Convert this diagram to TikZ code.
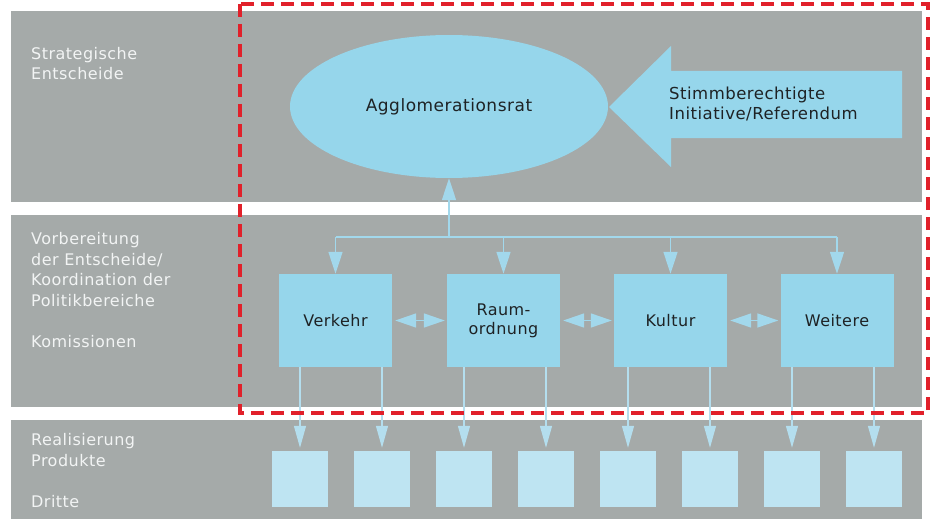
\documentclass[tikz,border=0pt]{standalone}
\usepackage{fontspec}
\setmainfont{DejaVu Sans}[LetterSpace=3]
\usetikzlibrary{shapes.geometric,arrows.meta}
\definecolor{bandgray}{HTML}{A5AAA9}
\definecolor{boxblue}{HTML}{96D6EB}
\definecolor{prodblue}{HTML}{BEE4F2}
\definecolor{lineblue}{HTML}{A2D8EC}
\definecolor{thinblue}{HTML}{B4DEEE}
\definecolor{dashred}{HTML}{E1202A}
\definecolor{labelwhite}{HTML}{F2F4F4}
\definecolor{textdark}{HTML}{1E2224}
\tikzset{
  band/.style={fill=bandgray, draw=none},
  sidelabel/.style={anchor=base west, inner sep=0pt, align=left, text=labelwhite,
    font=\fontsize{16}{20.5}\selectfont},
  kombox/.style={fill=boxblue, draw=none, minimum width=113pt, minimum height=93pt,
    inner sep=0pt, align=center, text=textdark, font=\fontsize{16}{19}\selectfont},
  prodbox/.style={fill=prodblue, draw=none, minimum width=56pt, minimum height=56pt, inner sep=0pt},
  treeline/.style={draw=lineblue, line width=1.5pt},
  treearrow/.style={draw=lineblue, line width=1.5pt, -{Triangle[length=22pt,width=14pt]}, fill=lineblue},
  dblarrow/.style={draw=lineblue, line width=1.5pt,
    {Triangle[length=21pt,width=14pt]}-{Triangle[length=21pt,width=14pt]}, fill=lineblue,
    shorten <=3pt, shorten >=2pt},
  downarrow/.style={draw=thinblue, line width=1.2pt, -{Triangle[length=22pt,width=12pt]}, fill=thinblue,
    shorten >=3pt},
  reddash/.style={draw=dashred, line width=3.5pt, dash pattern=on 13pt off 7pt}
}
\begin{document}
\begin{tikzpicture}[x=1pt,y=-1pt]
\useasboundingbox (0,0) rectangle (935,519);
\fill[white] (0,0) rectangle (935,519);
% bands
\fill[band] (11,11) rectangle (922,202);
\fill[band] (11,215) rectangle (922,407);
\fill[band] (11,420) rectangle (922,519);
% side labels (anchored at the baseline of the last line)
\node[sidelabel] (l1) at (31,79.5) {Strategische\\Entscheide};
\node[sidelabel] (l2) at (31,347) {Vorbereitung\\der Entscheide/\\Koordination der\\Politikbereiche\\[20.5pt]Komissionen};
\node[sidelabel] (l3) at (31,507) {Realisierung\\Produkte\\[20.5pt]Dritte};
% ellipse
\node[ellipse, fill=boxblue, draw=none, minimum width=318pt, minimum height=143pt, inner sep=0pt,
  text=textdark, font=\fontsize{17}{19}\selectfont] (rat) at (449,106.5) {Agglomerationsrat};
% big arrow
\fill[boxblue] (609,107) -- (671,46) -- (671,71) -- (902,71) -- (902,138) -- (671,138) -- (671,167) -- cycle;
\node[anchor=base west, inner sep=0pt, align=left, text=textdark, font=\fontsize{16.5}{20}\selectfont]
  (stimm) at (669,119) {Stimmberechtigte\\Initiative/Referendum};
% commissions
\node[kombox] (verk) at (335.5,320.5) {Verkehr};
\node[kombox] (raum) at (503.5,320.5) {Raum-\\ordnung};
\node[kombox] (kult) at (670.5,320.5) {Kultur};
\node[kombox] (weit) at (837,320.5) {Weitere};
% tree
\coordinate (hub) at (449,237);
\draw[treeline] (verk.north |- hub) -- (weit.north |- hub);
\draw[treearrow] (hub) -- (rat.south);
\foreach \b in {verk,raum,kult,weit}{
  \draw[treearrow] (\b.north |- hub) -- (\b.north);
}
\draw[dblarrow] (verk.east) -- (raum.west);
\draw[dblarrow] (raum.east) -- (kult.west);
\draw[dblarrow] (kult.east) -- (weit.west);
% products
\foreach \i/\x in {1/300,2/382,3/464,4/546,5/628,6/710,7/792,8/874}{
  \node[prodbox] (p\i) at (\x,479) {};
}
\draw[downarrow] (p1.north |- verk.south) -- (p1.north);
\draw[downarrow] (p2.north |- verk.south) -- (p2.north);
\draw[downarrow] (p3.north |- raum.south) -- (p3.north);
\draw[downarrow] (p4.north |- raum.south) -- (p4.north);
\draw[downarrow] (p5.north |- kult.south) -- (p5.north);
\draw[downarrow] (p6.north |- kult.south) -- (p6.north);
\draw[downarrow] (p7.north |- weit.south) -- (p7.north);
\draw[downarrow] (p8.north |- weit.south) -- (p8.north);
% red dashed frame
\draw[reddash] (240,4) rectangle (928,413);
\end{tikzpicture}
\end{document}
